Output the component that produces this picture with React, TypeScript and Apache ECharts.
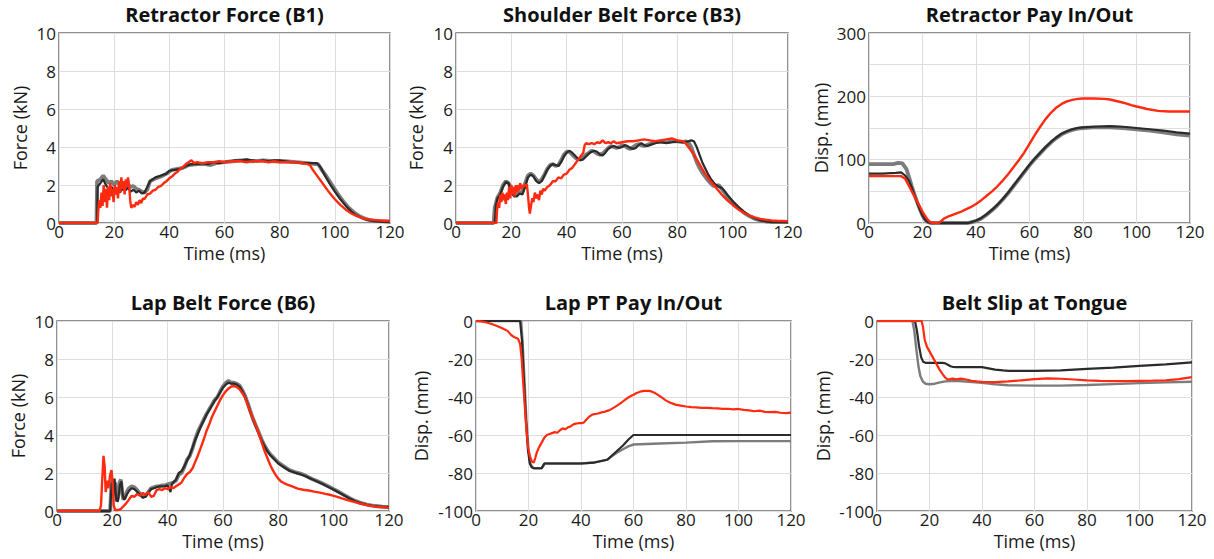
import React, { useEffect, useRef } from "react";
import * as echarts from "echarts";

// ---------- DATA ----------
const timeTicks = [0, 20, 40, 60, 80, 100, 120];
const titles = [
  "Retractor Force (B1)",
  "Shoulder Belt Force (B3)",
  "Retractor Pay In/Out",
  "Lap Belt Force (B6)",
  "Lap PT Pay In/Out",
  "Belt Slip at Tongue",
];
const yNames = ["Force (kN)", "Force (kN)", "Disp. (mm)", "Force (kN)", "Disp. (mm)", "Disp. (mm)"];
const xName = "Time (ms)";
const yRanges = [
  [0, 10, 2],
  [0, 10, 2],
  [0, 300, 100],
  [0, 10, 2],
  [-100, 0, 20],
  [-100, 0, 20],
];

// Panel 1: Retractor Force (B1)
const p1Gray = [[0,0],[13.6,0],[13.8,2.2],[15,2.3],[16,2.5],[17,2.3],[18,2.1],[19,2.2],[20,2.0],[21,2.2],[22,2.0],[23,2.1],[24,1.9],[25,2.0],[26,1.9],[27,1.95],[28,1.8],[29,1.75],[30,1.65],[31,1.6],[32,1.75],[33,2.2],[35,2.35],[37,2.45],[39,2.6],[41,2.8],[43,2.85],[45,2.9],[47,3.05],[50,3.1],[53,3.1],[55,3.05],[57,3.15],[60,3.2],[63,3.25],[66,3.3],[68,3.3],[70,3.25],[74,3.3],[78,3.25],[82,3.25],[86,3.2],[90,3.15],[93,3.1],[94,3.1],[95,2.85],[97,2.45],[99,2.0],[101,1.55],[103,1.15],[105,0.8],[107,0.55],[109,0.35],[111,0.22],[113,0.14],[116,0.1],[120,0.08]];
const p1Black = [[0,0],[13.8,0],[14,1.9],[15,2.1],[16,2.3],[17,2.0],[18,1.8],[19,1.9],[20,1.7],[21,1.85],[22,1.6],[23,1.8],[24,1.7],[25,1.85],[26,1.65],[27,1.75],[28,1.6],[29,1.7],[30,1.55],[31,1.6],[32,1.9],[33,2.2],[35,2.4],[37,2.5],[39,2.6],[40,2.75],[42,2.8],[44,2.85],[46,3.0],[48,3.1],[50,3.1],[52,3.15],[54,3.1],[56,3.2],[58,3.15],[60,3.2],[62,3.25],[64,3.3],[66,3.3],[68,3.35],[70,3.3],[72,3.25],[74,3.3],[76,3.25],[78,3.3],[80,3.3],[82,3.25],[84,3.2],[86,3.2],[88,3.15],[90,3.15],[92,3.15],[93.5,3.15],[95,2.9],[96,2.6],[98,2.1],[100,1.65],[102,1.25],[104,0.9],[106,0.6],[108,0.38],[110,0.25],[112,0.16],[114,0.1],[116,0.07],[118,0.06],[120,0.05]];
const p1Red = [[0,0],[14,0],[14.2,0.6],[14.6,1.2],[15,0.8],[15.4,1.6],[15.8,0.9],[16.2,2.0],[16.6,1.1],[17,1.8],[17.4,0.8],[17.8,1.9],[18.2,1.2],[18.6,2.1],[19,1.4],[19.4,1.8],[19.8,1.1],[20.2,2.0],[20.6,1.5],[21,1.9],[21.4,1.3],[21.8,2.2],[22.2,1.6],[22.6,2.4],[23,1.8],[23.4,2.2],[23.8,1.5],[24.2,2.3],[24.6,1.9],[25,2.4],[25.4,2.0],[25.8,1.2],[26.2,0.8],[26.8,0.95],[27.4,0.85],[28,1.1],[28.6,0.95],[29.2,1.2],[29.8,1.05],[30.4,1.3],[31,1.25],[32,1.5],[33,1.55],[34,1.7],[35,1.75],[36,1.9],[37,1.95],[38,2.1],[39,2.2],[40,2.35],[41,2.45],[42,2.6],[43,2.7],[44,2.85],[45,2.95],[46,3.1],[47,3.2],[48,3.3],[49,3.15],[50,3.2],[52,3.15],[54,3.2],[56,3.2],[58,3.25],[60,3.2],[62,3.25],[64,3.25],[66,3.25],[68,3.2],[70,3.25],[72,3.25],[74,3.25],[76,3.2],[78,3.25],[80,3.2],[82,3.2],[84,3.2],[86,3.2],[88,3.15],[90,3.1],[91,3.05],[92,2.8],[94,2.4],[96,2.0],[98,1.6],[100,1.25],[102,0.95],[104,0.7],[106,0.5],[108,0.36],[110,0.26],[112,0.2],[114,0.16],[116,0.14],[118,0.12],[120,0.1]];

// Panel 2: Shoulder Belt Force (B3)
const p2Gray = [[0,0],[13.6,0],[14,0.8],[15,1.35],[16,1.6],[17,2.0],[18,2.2],[19,2.1],[20,1.8],[21,1.55],[22,1.5],[23,1.6],[24,1.65],[25,2.1],[26,2.5],[27,2.6],[28,2.5],[29,2.3],[30,2.15],[31,2.3],[32,2.55],[33,2.85],[34,3.05],[35,3.1],[36,3.0],[37,3.05],[38,3.3],[39,3.6],[40,3.75],[41,3.75],[42,3.6],[43,3.45],[44,3.35],[45,3.35],[46,3.45],[47,3.6],[48,3.7],[49,3.8],[50,3.75],[51,3.65],[52,3.6],[53,3.65],[54,3.8],[55,3.95],[56,4.05],[57,4.0],[58,3.95],[59,4.0],[60,4.1],[61,4.05],[62,3.95],[63,3.9],[64,4.0],[65,4.1],[66,4.15],[67,4.1],[68,4.05],[70,4.15],[72,4.25],[74,4.3],[76,4.25],[78,4.3],[80,4.3],[82,4.25],[83,4.3],[84,4.25],[85,4.0],[86,3.6],[87,3.2],[88,2.9],[89,2.65],[90,2.45],[91,2.25],[92,2.1],[93,1.95],[94,1.95],[95,2.0],[96,1.8],[97,1.6],[98,1.4],[100,1.1],[102,0.8],[104,0.55],[106,0.36],[108,0.22],[110,0.13],[112,0.08],[114,0.06],[120,0.05]];
const p2Black = [[0,0],[14,0],[14.4,0.9],[15,1.3],[16,1.5],[17,1.9],[18,2.15],[19,2.1],[20,1.6],[21,1.4],[22,1.4],[23,1.55],[24,1.5],[25,1.9],[26,2.4],[27,2.55],[28,2.45],[29,2.2],[30,2.1],[31,2.2],[32,2.5],[33,2.8],[34,3.0],[35,3.1],[36,3.05],[37,3.0],[38,3.2],[39,3.5],[40,3.7],[41,3.8],[42,3.7],[43,3.55],[44,3.4],[45,3.3],[46,3.35],[47,3.5],[48,3.65],[49,3.75],[50,3.8],[51,3.75],[52,3.6],[53,3.55],[54,3.7],[55,3.9],[56,4.0],[57,4.05],[58,4.0],[59,3.95],[60,4.0],[61,4.1],[62,4.05],[63,3.95],[64,3.9],[65,3.95],[66,4.1],[67,4.2],[68,4.1],[69,4.05],[70,4.1],[72,4.2],[74,4.25],[76,4.2],[78,4.25],[80,4.3],[82,4.25],[84,4.3],[85,4.35],[86,4.3],[87,4.0],[88,3.6],[89,3.2],[90,2.9],[91,2.6],[92,2.35],[93,2.15],[94,2.0],[95,1.9],[96,1.85],[97,1.7],[98,1.5],[100,1.15],[102,0.85],[104,0.6],[106,0.4],[108,0.25],[110,0.14],[112,0.08],[114,0.05],[116,0.04],[120,0.04]];
const p2Red = [[0,0],[14.6,0],[14.8,0.6],[15.2,1.1],[15.6,0.8],[16,1.5],[16.4,1.1],[16.8,1.6],[17.2,1.2],[17.6,1.5],[18,1.0],[18.4,1.6],[18.8,1.2],[19.2,1.9],[19.6,1.3],[20,2.0],[20.4,1.5],[20.8,1.9],[21.2,1.4],[21.6,2.0],[22,1.6],[22.4,2.0],[22.8,1.7],[23.2,2.1],[23.6,1.8],[24,2.0],[24.4,1.9],[24.8,2.0],[25.2,1.95],[25.6,2.05],[26,1.5],[26.4,0.8],[26.7,0.5],[27.2,1.0],[27.6,1.3],[28,1.1],[28.5,1.6],[29,1.3],[29.5,1.5],[30,1.2],[30.5,1.7],[31,1.5],[31.5,1.8],[32,1.7],[33,1.9],[34,2.0],[35,2.2],[36,2.2],[37,2.4],[38,2.35],[39,2.55],[40,2.6],[41,2.8],[42,2.9],[43,3.1],[44,3.3],[45,3.5],[46,3.7],[46.5,4.1],[47,4.2],[48,4.15],[49,4.2],[50,4.15],[51,4.25],[52,4.2],[53,4.35],[54,4.2],[55,4.25],[56,4.2],[57,4.3],[58,4.2],[60,4.25],[62,4.3],[64,4.3],[66,4.35],[68,4.4],[70,4.35],[72,4.3],[74,4.35],[76,4.4],[78,4.45],[80,4.35],[82,4.3],[83,4.2],[84,4.0],[86,3.6],[88,3.1],[90,2.6],[92,2.2],[94,1.85],[96,1.5],[98,1.2],[100,0.95],[102,0.72],[104,0.54],[106,0.4],[108,0.3],[110,0.22],[112,0.17],[114,0.14],[116,0.12],[120,0.1]];

// Panel 3: Retractor Pay In/Out
const p3Gray = [[0,93],[5,93],[9,93],[11,95],[12.5,94],[14,85],[15,72],[16,58],[17,45],[18,33],[19,22],[20,12],[21,5],[22,1.5],[23,0],[37,0],[38,1],[40,3],[42,7],[44,13],[46,20],[48,28],[50,37],[52,47],[54,58],[56,69],[58,80],[60,91],[62,101],[64,110],[66,119],[68,127],[70,134],[72,140],[74,144],[76,147],[78,149],[80,150],[84,151],[90,151],[95,150],[100,148],[105,146],[110,143],[115,140],[120,138]];
const p3Black = [[0,78],[5,78],[10,79],[12,80],[13.5,75],[15,66],[16,56],[17,44],[18,32],[19,21],[20,12],[21,5],[22,1.5],[23,0],[37,0],[38,1],[40,4],[42,8],[44,14],[46,21],[48,29],[50,38],[52,48],[54,59],[56,70],[58,81],[60,92],[62,102],[64,111],[66,120],[68,128],[70,135],[72,141],[74,145],[76,148],[78,150],[80,151],[84,152],[90,153],[95,152],[100,150],[105,148],[110,146],[115,143],[120,141]];
const p3Red = [[0,74],[5,74],[10,74],[12,74],[13.5,70],[15,58],[16,50],[17,42],[18,34],[19,26],[20,18],[21,11],[22,5],[23,1],[24,0],[26,0],[27,3],[28,7],[30,11],[32,14],[34,17],[36,21],[38,25],[40,30],[42,36],[44,43],[46,50],[48,58],[50,67],[52,77],[54,88],[56,99],[58,111],[60,125],[62,139],[64,152],[66,164],[68,174],[70,182],[72,188],[74,192],[76,194.5],[78,196],[80,196.5],[84,196.5],[88,196],[90,195],[92,193],[94,191],[96,189],[98,186],[100,184],[104,180],[108,177],[112,176],[116,176],[120,176]];

// Panel 4: Lap Belt Force (B6)
const p4Gray = [[0,0],[19.2,0],[19.6,1.2],[20,1.7],[20.5,0.9],[21,1.5],[21.5,0.5],[22,0.7],[22.6,1.5],[23.1,1.65],[23.6,0.9],[24,0.6],[24.6,0.7],[25.2,1.0],[26,1.2],[27,1.3],[28,1.25],[29,1.1],[30,0.9],[31,0.75],[32,0.8],[33,1.0],[34,1.2],[35,1.25],[36,1.3],[37,1.3],[38,1.35],[39,1.35],[40,1.4],[41,1.45],[42,1.5],[43,1.6],[44,1.9],[45,2.0],[46,2.3],[47,2.7],[48,2.9],[49,3.3],[50,3.8],[51,4.2],[52,4.5],[53,4.8],[54,5.1],[55,5.35],[56,5.6],[57,5.85],[58,6.0],[59,6.3],[60,6.55],[61,6.75],[62,6.85],[63,6.75],[64,6.75],[65,6.7],[66,6.6],[67,6.35],[68,6.05],[69,5.65],[70,5.2],[71,4.8],[72,4.45],[73,4.1],[74,3.75],[75,3.45],[76,3.2],[77,3.0],[78,2.85],[79,2.7],[80,2.55],[82,2.35],[84,2.15],[86,2.05],[88,1.97],[90,1.85],[92,1.7],[94,1.58],[96,1.45],[98,1.3],[100,1.15],[102,1.0],[104,0.82],[106,0.66],[108,0.52],[110,0.42],[112,0.34],[114,0.28],[116,0.25],[118,0.22],[120,0.21]];
const p4Black = [[0,0],[19.2,0],[19.8,1.5],[20.3,0.8],[20.8,1.7],[21.4,0.6],[22,0.5],[22.8,1.4],[23.3,1.55],[23.8,0.8],[24.3,0.6],[25,0.8],[26,1.05],[27,1.2],[28,1.15],[29,1.0],[30,0.85],[31,0.7],[32,0.75],[33,0.95],[34,1.15],[35,1.2],[36,1.25],[37,1.3],[38,1.3],[39,1.3],[40,1.35],[41,1.0],[41.5,1.4],[42,1.5],[43,1.65],[44,2.0],[45,2.1],[46,2.35],[47,2.65],[48,2.95],[49,3.35],[50,3.75],[51,4.1],[52,4.45],[53,4.75],[54,5.05],[55,5.3],[56,5.55],[57,5.8],[58,6.0],[59,6.25],[60,6.5],[61,6.65],[62,6.75],[63,6.7],[64,6.7],[65,6.65],[66,6.55],[67,6.3],[68,6.0],[69,5.6],[70,5.15],[71,4.75],[72,4.4],[73,4.05],[74,3.7],[75,3.4],[76,3.15],[77,2.95],[78,2.8],[79,2.65],[80,2.5],[82,2.3],[84,2.12],[86,2.02],[88,1.93],[90,1.82],[92,1.68],[94,1.55],[96,1.42],[98,1.27],[100,1.12],[102,0.96],[104,0.8],[106,0.64],[108,0.5],[110,0.4],[112,0.32],[114,0.27],[116,0.24],[118,0.22],[120,0.2]];
const p4Red = [[0,0],[15.4,0],[15.9,0.3],[16.3,1.5],[16.8,2.9],[17.2,2.4],[17.6,1.0],[18.1,1.6],[18.6,1.2],[19.2,1.9],[19.7,2.15],[20.1,1.5],[20.5,0.3],[21,0.05],[22,0.05],[23,0.1],[24,0.25],[25,0.4],[26,0.6],[27,0.8],[28,0.75],[29,0.9],[30,0.8],[31,0.95],[32,0.85],[33,1.0],[34,0.75],[35,0.8],[36,1.1],[37,1.15],[38,1.1],[39,1.2],[40,1.15],[41,1.25],[42,1.2],[43,1.3],[44,1.4],[45,1.5],[46,1.75],[47,1.95],[48,2.05],[49,2.25],[50,2.6],[51,2.95],[52,3.35],[53,3.75],[54,4.2],[55,4.55],[56,4.95],[57,5.25],[58,5.55],[59,5.85],[60,6.1],[61,6.3],[62,6.45],[63,6.55],[64,6.57],[65,6.52],[66,6.4],[67,6.2],[68,5.95],[69,5.55],[70,5.15],[71,4.8],[72,4.45],[73,4.05],[74,3.6],[75,3.17],[76,2.8],[77,2.45],[78,2.15],[79,1.9],[80,1.7],[81,1.55],[82,1.47],[83,1.4],[85,1.3],[87,1.18],[89,1.12],[91,1.08],[93,1.02],[95,0.97],[97,0.9],[99,0.84],[101,0.76],[103,0.66],[105,0.57],[107,0.49],[109,0.41],[111,0.34],[113,0.28],[115,0.24],[117,0.21],[120,0.18]];

// Panel 5: Lap PT Pay In/Out
const p5Gray = [[0,0],[17.2,0],[17.8,-12],[18.5,-32],[19.2,-52],[20,-68],[20.7,-75],[21.5,-77],[22.2,-77.5],[25,-77.5],[25.6,-76.5],[26.2,-75],[30,-75],[40,-75],[45,-74.5],[50,-73],[52,-71],[54,-69],[56,-67.5],[58,-66],[60,-65],[70,-64.5],[80,-64],[90,-63.3],[100,-63.2],[110,-63.2],[120,-63.2]];
const p5Black = [[0,0],[16.8,0],[17.5,-10],[18.2,-30],[19,-52],[19.8,-68],[20.5,-75],[21.2,-77],[22,-77.5],[25,-77.5],[25.6,-76],[26,-75],[30,-75],[40,-75],[45,-74.5],[50,-73],[52,-70.5],[54,-68],[56,-65.5],[58,-62.5],[60,-60],[70,-60],[80,-60],[90,-60],[100,-60],[110,-60],[120,-60]];
const p5Red = [[0,0],[2,-0.2],[4,-0.8],[6,-1.6],[8,-2.6],[10,-3.8],[12,-5.2],[13.5,-7.5],[14.5,-8.4],[16,-9.3],[16.8,-12],[17.4,-20],[18,-33],[18.6,-45],[19.2,-57],[19.8,-66],[20.5,-71],[21.3,-74],[22,-74.5],[22.6,-72],[23.2,-69],[24,-66.5],[25,-64],[26,-61.5],[27,-60],[28,-59.5],[29,-59],[30,-58.5],[31,-58.8],[32,-57.5],[33,-56.5],[34,-57],[35,-56],[36,-55.5],[37,-54.5],[38,-54],[39,-53.8],[40,-53.8],[41,-53.5],[42,-52],[43,-50.5],[44,-49.5],[45,-49],[46,-48.8],[47,-48.5],[48,-48],[49,-47.8],[50,-47.3],[51,-46.8],[52,-46],[53,-45.2],[54,-44.3],[55,-43.3],[56,-42.3],[57,-41.3],[58,-40.3],[59,-39.5],[60,-38.8],[61,-38],[62,-37.5],[63,-37],[64,-36.8],[65,-36.7],[66,-36.8],[67,-37.2],[68,-37.8],[69,-38.6],[70,-39.5],[71,-40.5],[72,-41.5],[73,-42.3],[74,-43],[75,-43.5],[76,-44],[78,-44.5],[80,-45],[82,-45.3],[84,-45.5],[86,-45.7],[88,-45.7],[90,-45.9],[92,-46],[94,-46.2],[96,-46.2],[98,-46.5],[100,-46.3],[102,-46.8],[104,-47],[106,-47.5],[108,-47.2],[110,-47.8],[112,-48],[114,-47.8],[116,-48.3],[118,-48.5],[120,-48.2]];

// Panel 6: Belt Slip at Tongue
const p6Gray = [[0,0],[13.5,0],[14.2,-5],[15,-15],[15.8,-24],[16.5,-29],[17.5,-32],[18.5,-33],[20,-33.3],[22,-33],[24,-32.3],[26,-31.8],[30,-31.5],[35,-32],[40,-32.5],[45,-33.3],[50,-33.8],[60,-34],[70,-34],[80,-33.7],[90,-33.2],[100,-32.7],[110,-32.3],[120,-32]];
const p6Black = [[0,0],[14.5,0],[15.2,-5],[16,-13],[16.8,-19],[17.6,-21.5],[18.5,-22],[25,-22],[26,-22.3],[27,-23],[28,-23.8],[29,-24.2],[30,-24.3],[40,-24.3],[42,-24.8],[45,-25.6],[48,-26],[50,-26.2],[60,-26.2],[70,-26],[80,-25.2],[90,-24.5],[100,-23.6],[110,-22.8],[120,-21.8]];
const p6Red = [[0,0],[17,0],[17.5,-3],[18.2,-10],[19,-13.5],[20,-16],[21,-18.5],[22,-21],[23,-23.5],[24,-26],[25,-28],[26,-29.8],[27,-30.8],[28,-30.5],[29,-30.3],[30,-30.7],[32,-30.3],[34,-30.8],[36,-31.5],[38,-31.8],[40,-32],[45,-32.2],[50,-31.8],[55,-31.2],[60,-30.6],[65,-30.2],[70,-30.4],[75,-30.8],[80,-31.2],[85,-31.5],[90,-31.6],[95,-31.6],[100,-31.5],[105,-31.4],[110,-31.2],[115,-30.6],[120,-29.5]];

const panelSeries = [
  [p1Gray, p1Black, p1Red],
  [p2Gray, p2Black, p2Red],
  [p3Gray, p3Black, p3Red],
  [p4Gray, p4Black, p4Red],
  [p5Gray, p5Black, p5Red],
  [p6Gray, p6Black, p6Red],
];

// ---------- LAYOUT / STYLE ----------
const FONT = "'Open Sans', 'Noto Sans', sans-serif";
const grids = [
  { left: 59, top: 33, width: 331, height: 190, nameGap: 30 },
  { left: 456, top: 33, width: 332, height: 190, nameGap: 31 },
  { left: 869, top: 33, width: 321, height: 190, nameGap: 39 },
  { left: 57, top: 321, width: 332, height: 190, nameGap: 30 },
  { left: 476, top: 321, width: 315, height: 190, nameGap: 46 },
  { left: 877, top: 321, width: 315, height: 190, nameGap: 45 },
];
const lineColors = ["#7c7c7c", "#2b2b2b", "#ff2a10"];
const thickWidths = [3.8, 2.2, 2.4];
const thinWidths = [2.4, 2.2, 2.2];

export default function App() {
  const ref = useRef<HTMLDivElement>(null);
  useEffect(() => {
    if (!ref.current) return;
    const chart = echarts.init(ref.current, undefined, { renderer: "svg" });
    const series: any[] = [];
    panelSeries.forEach((arr, i) => {
      arr.forEach((d, k) => {
        const thin = i >= 4;
        series.push({
          type: "line",
          xAxisIndex: i,
          yAxisIndex: i,
          data: d,
          showSymbol: false,
          symbol: "none",
          silent: true,
          z: 2 + k,
          lineStyle: { color: lineColors[k], width: thin ? thinWidths[k] : thickWidths[k] },
        });
      });
    });
    chart.setOption({
      animation: false,
      backgroundColor: "#ffffff",
      textStyle: { fontFamily: FONT },
      title: grids.map((g, i) => ({
        text: titles[i],
        left: g.left + g.width / 2,
        top: i < 3 ? 4 : 292,
        textAlign: "center",
        padding: 0,
        textStyle: { fontSize: 20, fontWeight: "bold", color: "#111", fontFamily: FONT },
      })),
      grid: grids.map((g) => ({
        left: g.left,
        top: g.top,
        width: g.width,
        height: g.height,
        show: true,
        borderColor: "#6e6e6e",
        borderWidth: 1.5,
        backgroundColor: "transparent",
        containLabel: false,
      })),
      xAxis: grids.map((g, i) => ({
        type: "value",
        gridIndex: i,
        min: timeTicks[0],
        max: timeTicks[timeTicks.length - 1],
        interval: timeTicks[1] - timeTicks[0],
        name: xName,
        nameLocation: "middle",
        nameGap: 21,
        nameTextStyle: { fontSize: 18, color: "#1a1a1a", fontFamily: FONT },
        axisLine: { show: false },
        axisTick: { show: false },
        axisLabel: { fontSize: 17, color: "#1a1a1a", margin: 0, fontFamily: FONT },
        splitLine: { show: true, lineStyle: { color: "#dedede", width: 1 } },
      })),
      yAxis: grids.map((g, i) => ({
        type: "value",
        gridIndex: i,
        min: yRanges[i][0],
        max: yRanges[i][1],
        interval: yRanges[i][2],
        name: yNames[i],
        nameLocation: "middle",
        nameGap: g.nameGap,
        nameTextStyle: { fontSize: 18, color: "#1a1a1a", fontFamily: FONT },
        axisLine: { show: false },
        axisTick: { show: false },
        axisLabel: { fontSize: 17, color: "#1a1a1a", margin: 3, fontFamily: FONT },
        splitLine: { show: true, lineStyle: { color: "#dedede", width: 1 } },
        minorTick: { show: false, splitNumber: 2 },
        minorSplitLine: { show: i === 2, lineStyle: { color: "#dedede", width: 1 } },
      })),
      series,
    });
    return () => chart.dispose();
  }, []);
  return (
    <div
      ref={ref}
      style={{ position: "fixed", left: 0, top: 0, width: 1214, height: 559, background: "#fff" }}
    />
  );
}
